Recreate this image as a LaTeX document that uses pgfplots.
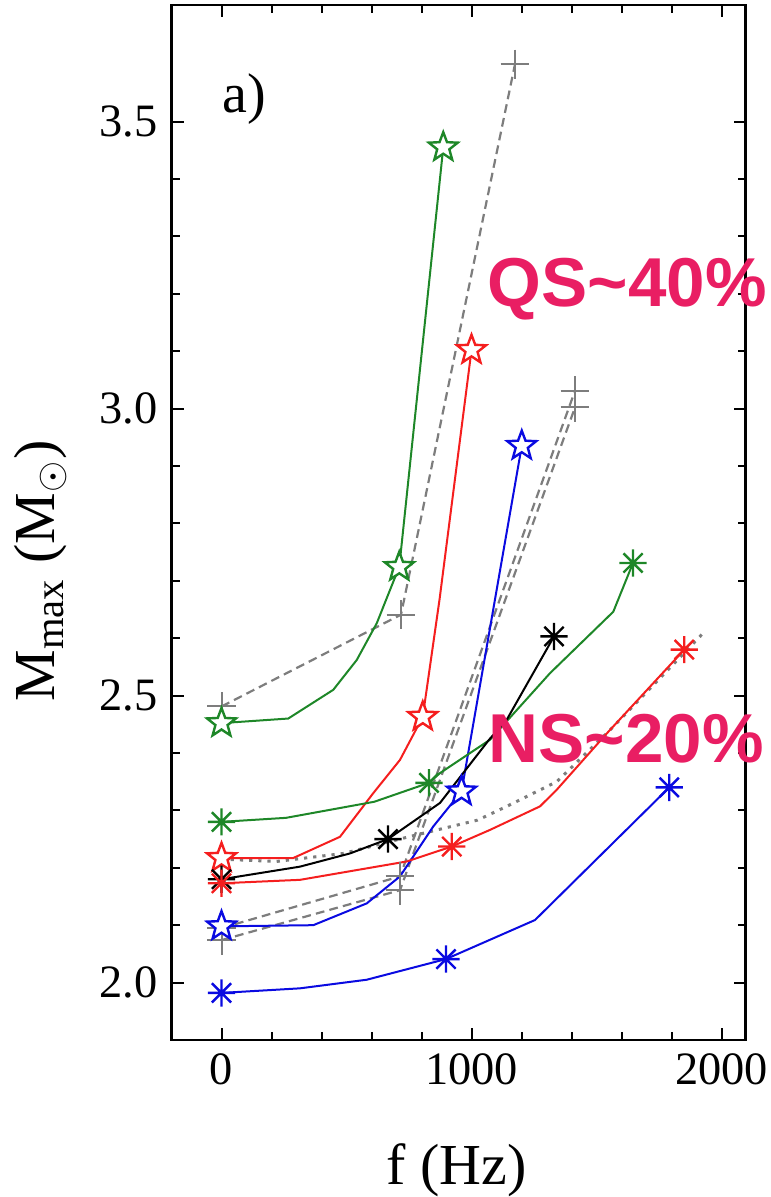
\documentclass[border=0pt]{standalone}
\usepackage{pgfplots}
\pgfplotsset{compat=1.18}
\usepackage{fontspec}
\setmainfont{Liberation Serif}
\newfontfamily\annfont{Liberation Sans}
\usetikzlibrary{plotmarks}

\definecolor{mgreen}{RGB}{30,135,40}
\definecolor{mred}{RGB}{245,30,30}
\definecolor{mblue}{RGB}{10,10,225}
\definecolor{mgray}{RGB}{125,125,125}
\definecolor{mpink}{RGB}{233,30,99}

\pgfdeclareplotmark{ostar}{%
  \pgfpathmoveto{\pgfpointpolar{90}{\pgfplotmarksize}}%
  \pgfpathlineto{\pgfpointpolar{126}{0.42*\pgfplotmarksize}}%
  \pgfpathlineto{\pgfpointpolar{162}{\pgfplotmarksize}}%
  \pgfpathlineto{\pgfpointpolar{198}{0.42*\pgfplotmarksize}}%
  \pgfpathlineto{\pgfpointpolar{234}{\pgfplotmarksize}}%
  \pgfpathlineto{\pgfpointpolar{270}{0.42*\pgfplotmarksize}}%
  \pgfpathlineto{\pgfpointpolar{306}{\pgfplotmarksize}}%
  \pgfpathlineto{\pgfpointpolar{342}{0.42*\pgfplotmarksize}}%
  \pgfpathlineto{\pgfpointpolar{18}{\pgfplotmarksize}}%
  \pgfpathlineto{\pgfpointpolar{54}{0.42*\pgfplotmarksize}}%
  \pgfpathclose
  \pgfusepathqfillstroke}
\pgfdeclareplotmark{ast8}{%
  \pgfpathmoveto{\pgfqpoint{-\pgfplotmarksize}{0pt}}\pgfpathlineto{\pgfqpoint{\pgfplotmarksize}{0pt}}%
  \pgfpathmoveto{\pgfqpoint{0pt}{-\pgfplotmarksize}}\pgfpathlineto{\pgfqpoint{0pt}{\pgfplotmarksize}}%
  \pgfpathmoveto{\pgfpointpolar{45}{\pgfplotmarksize}}\pgfpathlineto{\pgfpointpolar{225}{\pgfplotmarksize}}%
  \pgfpathmoveto{\pgfpointpolar{135}{\pgfplotmarksize}}\pgfpathlineto{\pgfpointpolar{315}{\pgfplotmarksize}}%
  \pgfusepathqstroke}

\tikzset{
  gdash/.style={mgray, line width=0.55pt, dash pattern=on 2.2pt off 1.3pt, mark=+, mark size=3.6pt, mark options={solid, line width=0.5pt}},
  gdot/.style={mgray, line width=0.75pt, dash pattern=on 0.8pt off 1.5pt, no marks},
  sstar/.style={#1, line width=0.5pt, mark=ostar, mark size=3.8pt, mark options={solid, fill=white, line width=0.6pt}},
  sast/.style={#1, line width=0.5pt, mark=ast8, mark size=3.4pt, mark options={solid, line width=0.6pt}},
}

\begin{document}
\begin{tikzpicture}
\begin{axis}[
  scale only axis, width=143.5pt, height=258.75pt,
  xmin=-200, xmax=2096, ymin=1.9, ymax=3.703,
  xtick={0,1000,2000}, minor x tick num=4,
  ytick={2,2.5,3,3.5}, minor y tick num=4,
  /pgf/number format/assume math mode=true,
  x tick label style={/pgf/number format/1000 sep={}, /pgf/number format/assume math mode=true},
  y tick label style={/pgf/number format/.cd, fixed, fixed zerofill, precision=1, assume math mode=true, /tikz/.cd},
  tick label style={font=\fontsize{11.6}{13}\selectfont},
  major tick length=3pt, minor tick length=2pt,
  axis line style={line width=0.6pt},
  tick style={line width=0.5pt, black},
  xlabel={f (Hz)},
  ylabel={M\textsubscript{max} (M\textsubscript{$\odot$})},
  label style={font=\fontsize{14.5}{16}\selectfont},
  xlabel style={at={(axis description cs:0.497,-0.140)}, anchor=base},
  ylabel style={at={(axis description cs:-0.228,0.4534)}, anchor=center},
  clip=false,
]
% gray dashed / dotted reference lines
\addplot[gdash] coordinates {(0,2.481) (718,2.641) (1174,3.600)};
\addplot[gdash] coordinates {(0,2.095) (714,2.185) (1414,3.031)};
\addplot[gdash] coordinates {(0,2.074) (714,2.161) (1414,3.002)};
\addplot[gdot] coordinates {(0,2.215) (220,2.211) (489,2.225) (749,2.254) (1024,2.283) (1141,2.307) (1341,2.350) (1554,2.440) (1927,2.609)};

% stars (open)
\addplot[sstar=mgreen, mark indices={1,7,8}] coordinates {(0,2.452) (267,2.460) (447,2.510) (541,2.562) (621,2.626) (674,2.684) (711,2.724) (887,3.455)};
\addplot[sstar=mred, mark indices={1,6,8}] coordinates {(0,2.217) (287,2.217) (474,2.254) (607,2.330) (714,2.388) (805,2.463) (872,2.667) (1000,3.102)};
\addplot[sstar=mblue, mark indices={1,6,7}] coordinates {(0,2.098) (367,2.100) (581,2.138) (714,2.185) (847,2.272) (960,2.333) (1201,2.935)};

% asterisks
\addplot[sast=mgreen, mark indices={1,4,9}] coordinates {(0,2.280) (258,2.287) (611,2.315) (830,2.348) (874,2.365) (1074,2.423) (1314,2.539) (1567,2.646) (1646,2.731)};
\addplot[sast=black, mark indices={1,4,8}] coordinates {(0,2.180) (314,2.202) (514,2.225) (666,2.250) (874,2.313) (1070,2.423) (1141,2.458) (1330,2.603)};
\addplot[sast=mred, mark indices={1,4,9}] coordinates {(0,2.173) (314,2.179) (741,2.211) (921,2.237) (1074,2.266) (1274,2.307) (1341,2.336) (1541,2.434) (1851,2.580)};
\addplot[sast=mblue, mark indices={1,4,6}] coordinates {(0,1.982) (314,1.990) (581,2.005) (898,2.041) (1254,2.109) (1791,2.340)};

\node[anchor=base west, inner sep=0pt, font=\fontsize{14}{16}\selectfont] at (axis cs:0,3.515) {a)};
\node[anchor=base west, inner sep=0pt, text=mpink, font=\annfont\bfseries\fontsize{17.3}{20}\selectfont] at (axis cs:1062,3.178) {QS\textasciitilde40\%};
\node[anchor=base west, inner sep=0pt, text=mpink, font=\annfont\bfseries\fontsize{17.3}{20}\selectfont] at (axis cs:1066,2.383) {NS\textasciitilde20\%};
\end{axis}
\pgfresetboundingbox
\path[use as bounding box] (current axis.south west) ++(-42.875pt,-39.25pt) rectangle ++(192.5pt,299.25pt);
\end{tikzpicture}
\end{document}
